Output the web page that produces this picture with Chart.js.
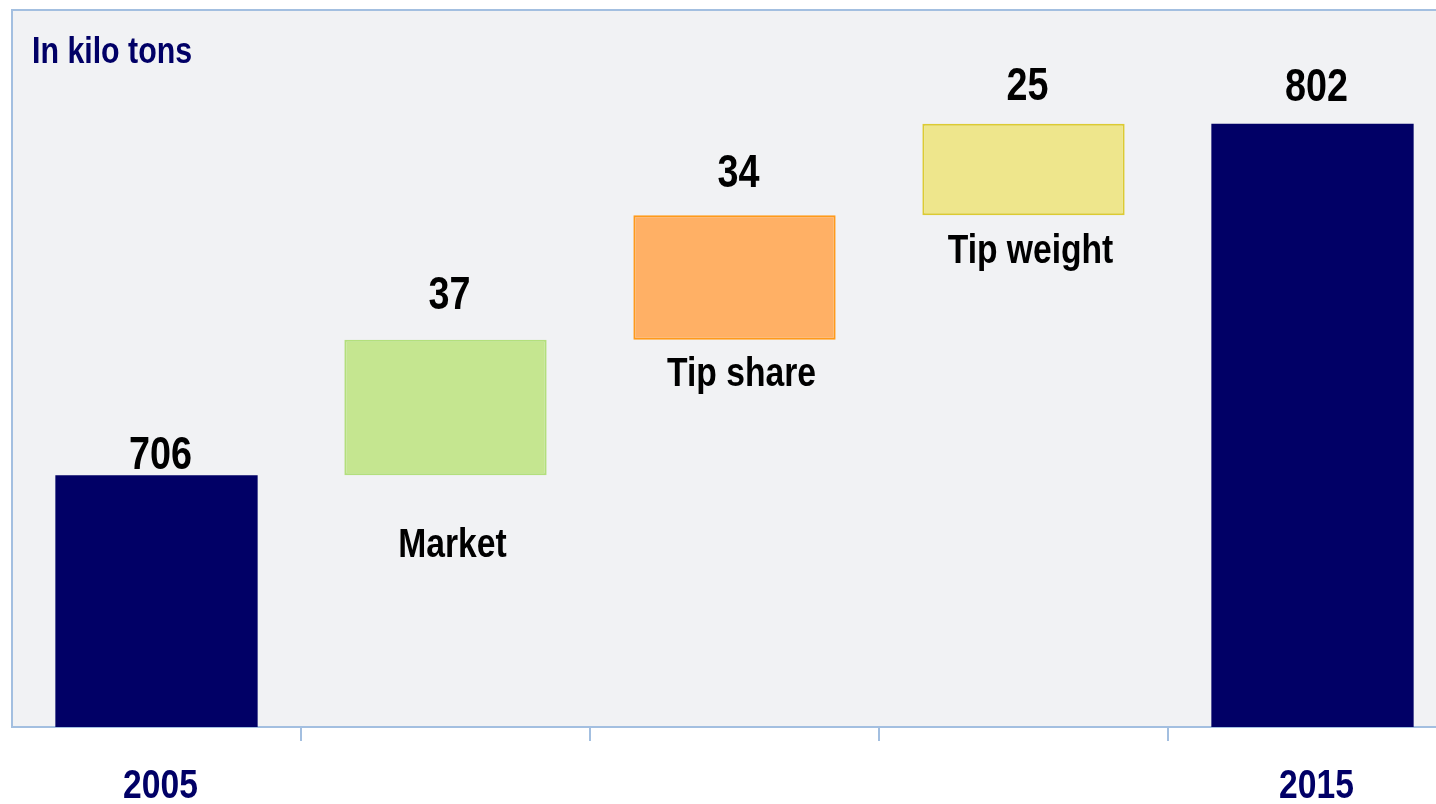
<!DOCTYPE html>
<html>
<head>
<meta charset="utf-8">
<script src="https://cdn.jsdelivr.net/npm/chart.js@4.4.1/dist/chart.umd.min.js"></script>
<style>
  html, body { margin: 0; padding: 0; background: #ffffff; overflow: hidden; width: 1436px; height: 804px; }
  #wrap { position: relative; width: 1470px; height: 804px; }
</style>
</head>
<body>
<div id="wrap"><canvas id="c" width="1470" height="804"></canvas></div>
<script>
// Waterfall: tonnage in 2005, the three drivers of change, tonnage in 2015
const categories = ['2005', 'Market', 'Tip share', 'Tip weight', '2015'];
const startValue = 706;
const changes = [37, 34, 25];
const endValue = 802;
const axisLabels = ['2005', '', '', '', '2015'];
const unitLabel = 'In kilo tons';

// Visible value window of the (hidden) value axis
const AXIS_MIN = 637.2;
const AXIS_MAX = 833.1;

const NAVY = '#010066';
const EDGE = '#A3BFE0';
const PLOT_BG = '#F1F2F4';
const FONT = '"Liberation Sans", Arial, sans-serif';
const NARROW = 0.82; // horizontal squeeze giving a narrow bold face

// Floating segments: totals rise from the axis floor, changes stack on the running total
const segments = [];
const shownValues = [];
segments.push([AXIS_MIN, startValue]);
shownValues.push(startValue);
let running = startValue;
changes.forEach(d => {
  segments.push([running, running + d]);
  shownValues.push(d);
  running += d;
});
segments.push([AXIS_MIN, endValue]);
shownValues.push(endValue);

const fills   = [NAVY, '#C5E690', '#FFB065', '#EEE68C', NAVY];
const borders = [NAVY, '#B3DF7C', '#FF9A1A', '#DCCB32', NAVY];
const borderWidths = [0, 2, 2, 2, 0];

// Distance of the value text above each bar, and of the driver names below
const valueGap = [6, 31, 28, 24, 23];
const nameGap  = [0, 82, 46, 48, 0];

function narrowText(ctx, text, x, y, size, color, align) {
  ctx.save();
  ctx.font = 'bold ' + size + 'px ' + FONT;
  ctx.fillStyle = color;
  ctx.textAlign = align || 'center';
  ctx.textBaseline = 'alphabetic';
  ctx.translate(x, y);
  ctx.scale(NARROW, 1);
  ctx.fillText(text, 0, 0);
  ctx.restore();
}

const framePlugin = {
  id: 'frame',
  beforeDraw(chart) {
    const { ctx, chartArea: a } = chart;
    ctx.save();
    ctx.fillStyle = PLOT_BG;
    ctx.fillRect(a.left, a.top, a.right - a.left, a.bottom - a.top);
    ctx.strokeStyle = EDGE;
    ctx.lineWidth = 2;
    ctx.beginPath();
    ctx.moveTo(a.left, a.bottom);
    ctx.lineTo(a.left, a.top);
    ctx.lineTo(a.right, a.top);
    ctx.stroke();
    ctx.restore();
    narrowText(ctx, unitLabel, a.left + 20, a.top + 53, 37, NAVY, 'left');
  }
};

const barTextPlugin = {
  id: 'barText',
  afterDatasetsDraw(chart) {
    const { ctx, chartArea: a } = chart;
    const meta = chart.getDatasetMeta(0);
    const xs = chart.scales.x;
    meta.data.forEach((el, i) => {
      const top = Math.min(el.y, el.base);
      const bottom = Math.max(el.y, el.base);
      narrowText(ctx, String(shownValues[i]), el.x + 4, top - valueGap[i], 46, '#000000');
      if (i > 0 && i < categories.length - 1) {
        narrowText(ctx, categories[i], el.x + 7, bottom + nameGap[i], 41, '#000000');
      }
      if (axisLabels[i]) {
        narrowText(ctx, axisLabels[i], xs.getPixelForValue(i) + 4, a.bottom + 71, 41, NAVY);
      }
    });
  }
};

new Chart(document.getElementById('c'), {
  type: 'bar',
  data: {
    labels: categories,
    datasets: [{
      data: segments,
      backgroundColor: fills,
      borderColor: borders,
      borderWidth: borderWidths,
      borderSkipped: false,
      barPercentage: 0.70,
      categoryPercentage: 1.0
    }]
  },
  options: {
    responsive: false,
    animation: false,
    devicePixelRatio: 1,
    layout: { padding: { left: 12, top: 10, right: 13, bottom: 63 } },
    plugins: { legend: { display: false }, tooltip: { enabled: false } },
    scales: {
      x: {
        grid: {
          offset: true,
          drawOnChartArea: false,
          tickLength: 14,
          lineWidth: 2,
          color: c => (c.index === 0 ? 'rgba(0,0,0,0)' : EDGE)
        },
        border: { color: EDGE, width: 2 },
        ticks: { display: false }
      },
      y: { display: false, min: AXIS_MIN, max: AXIS_MAX }
    }
  },
  plugins: [framePlugin, barTextPlugin]
});
</script>
</body>
</html>
